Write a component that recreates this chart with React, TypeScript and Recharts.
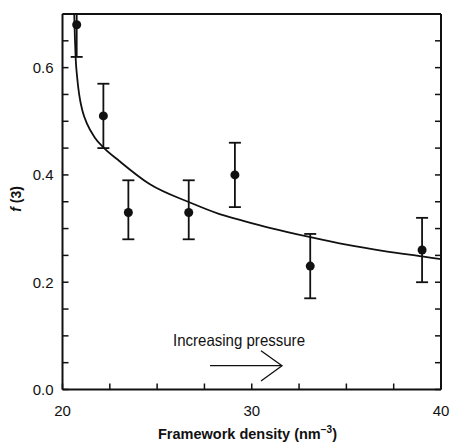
import {
	ComposedChart,
	ErrorBar,
	Line,
	Scatter,
	XAxis,
	YAxis,
} from "recharts";

// measured points: framework density (nm^-3), f(3), error [minus, plus]
// (first point's upper bar is cut by the frame at 0.7)
const densities = [20.75, 22.16, 23.48, 26.67, 29.11, 33.09, 39.0];
const fValues = [0.68, 0.51, 0.33, 0.33, 0.4, 0.23, 0.26];
const errors: [number, number][] = [
	[0.06, 0.02],
	[0.06, 0.06],
	[0.05, 0.06],
	[0.05, 0.06],
	[0.06, 0.06],
	[0.06, 0.06],
	[0.06, 0.06],
];

// fitted curve
const curveX = [20.62, 20.66, 20.7, 20.78, 20.88, 21.05, 21.3, 21.7, 22.2, 23.0, 24.6, 26.7, 28.3, 29.6, 31.0, 33.1, 35.0, 37.0, 39.0, 40.0];
const curveY = [0.7, 0.65, 0.615, 0.58, 0.55, 0.52, 0.495, 0.47, 0.45, 0.426, 0.383, 0.349, 0.327, 0.314, 0.301, 0.284, 0.27, 0.258, 0.248, 0.243];

const xTicks = [20, 22.5, 25, 27.5, 30, 32.5, 35, 37.5, 40];
const xLabels = [20, 30, 40];
const yTicks = [0, 0.05, 0.1, 0.15, 0.2, 0.25, 0.3, 0.35, 0.4, 0.45, 0.5, 0.55, 0.6, 0.65, 0.7];
const yLabels = [0, 0.2, 0.4, 0.6];

const points = densities.map((x, i) => ({ x, y: fValues[i], err: errors[i] }));
const curve = curveX.map((x, i) => ({ x, y: curveY[i] }));

const INK = "#111";
const FONT = "'Liberation Sans', Arial, sans-serif";
const TICK = 6;
const W = 451;
const H = 442;

function BottomTick(props: any) {
	const { x, y, payload } = props;
	const v = payload.value;
	return (
		<g>
			<line x1={x} y1={y} x2={x} y2={y - TICK} stroke={INK} strokeWidth={1.5} />
			{xLabels.includes(v) && (
				<text x={x} y={y + 26} textAnchor="middle" fontSize={15} fill={INK} fontFamily={FONT}>
					{v}
				</text>
			)}
		</g>
	);
}

function TopTick(props: any) {
	const { x, y } = props;
	return <line x1={x} y1={y} x2={x} y2={y + TICK} stroke={INK} strokeWidth={1.5} />;
}

function LeftTick(props: any) {
	const { x, y, payload } = props;
	const v = payload.value;
	const labeled = yLabels.some((l) => Math.abs(l - v) < 1e-6);
	return (
		<g>
			<line x1={x} y1={y} x2={x + TICK} y2={y} stroke={INK} strokeWidth={1.5} />
			{labeled && (
				<text x={x - 9} y={y + 5.5} textAnchor="end" fontSize={15} fill={INK} fontFamily={FONT}>
					{v.toFixed(1)}
				</text>
			)}
		</g>
	);
}

function RightTick(props: any) {
	const { x, y } = props;
	return <line x1={x} y1={y} x2={x - TICK} y2={y} stroke={INK} strokeWidth={1.5} />;
}

function Dot(props: any) {
	return <circle cx={props.cx} cy={props.cy} r={4.5} fill={INK} />;
}

export default function App() {
	const axisLine = { stroke: INK, strokeWidth: 2 };
	return (
		<div style={{ position: "relative", width: W, height: H }}>
			<style>{"body { margin: 0; }"}</style>
			<ComposedChart
				width={W}
				height={H}
				margin={{ top: 13, right: 9, bottom: 51.5, left: 61.5 }}
			>
				<XAxis
					type="number"
					dataKey="x"
					domain={[20, 40]}
					ticks={xTicks}
					interval={0}
					height={1}
					tickSize={0}
					tickMargin={0}
					tickLine={false}
					axisLine={axisLine}
					tick={<BottomTick />}
					allowDataOverflow
				/>
				<XAxis
					xAxisId="top"
					orientation="top"
					type="number"
					domain={[20, 40]}
					ticks={xTicks}
					interval={0}
					height={1}
					tickSize={0}
					tickMargin={0}
					tickLine={false}
					axisLine={axisLine}
					tick={<TopTick />}
					allowDataOverflow
				/>
				<YAxis
					type="number"
					domain={[0, 0.7]}
					ticks={yTicks}
					interval={0}
					width={1}
					tickSize={0}
					tickMargin={0}
					tickLine={false}
					axisLine={axisLine}
					tick={<LeftTick />}
					allowDataOverflow
				/>
				<YAxis
					yAxisId="right"
					orientation="right"
					type="number"
					domain={[0, 0.7]}
					ticks={yTicks}
					interval={0}
					width={1}
					tickSize={0}
					tickMargin={0}
					tickLine={false}
					axisLine={axisLine}
					tick={<RightTick />}
					allowDataOverflow
				/>
				<Line
					data={curve}
					dataKey="y"
					type="monotone"
					stroke={INK}
					strokeWidth={1.8}
					dot={false}
					activeDot={false}
					isAnimationActive={false}
				/>
				<Scatter data={points} dataKey="y" shape={<Dot />} isAnimationActive={false}>
					<ErrorBar dataKey="err" direction="y" width={6} stroke={INK} strokeWidth={1.8} />
				</Scatter>
			</ComposedChart>
			<svg
				width={W}
				height={H}
				style={{ position: "absolute", left: 0, top: 0, pointerEvents: "none" }}
				fontFamily={FONT}
			>
				<text
					transform="translate(20.7 199) rotate(-90)"
					textAnchor="middle"
					fontSize={14}
					fontWeight="bold"
					fill={INK}
				>
					<tspan fontStyle="italic">f</tspan> (3)
				</text>
				<text x={247.5} y={439} textAnchor="middle" fontSize={14.5} fontWeight="bold" fill={INK}>
					Framework density (nm
					<tspan fontSize={10} dy={-6}>−3</tspan>
					<tspan dy={6}>)</tspan>
				</text>
				<text x={173} y={345.7} fontSize={16.5} fill={INK} textLength={132} lengthAdjust="spacingAndGlyphs">
					Increasing pressure
				</text>
				<line x1={210} y1={365.7} x2={282} y2={365.7} stroke={INK} strokeWidth={1.3} />
				<polyline points="261,350.7 282,365.7 261,381" fill="none" stroke={INK} strokeWidth={1.3} />
			</svg>
		</div>
	);
}
